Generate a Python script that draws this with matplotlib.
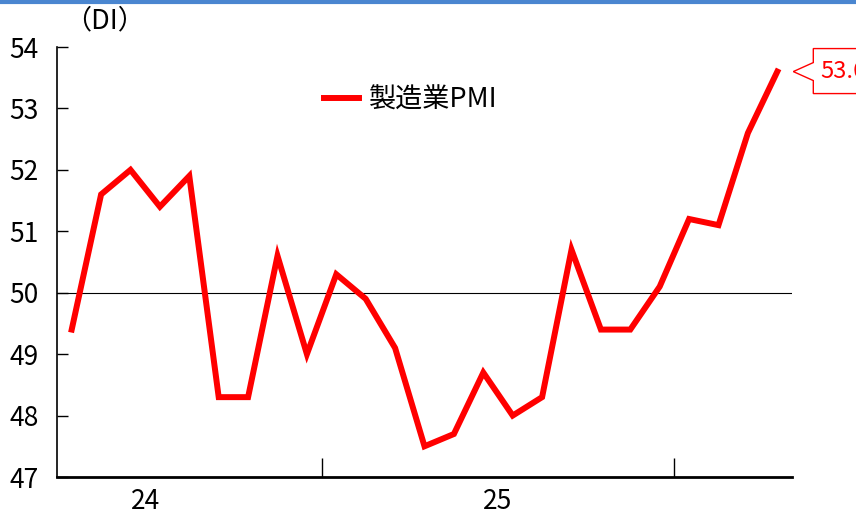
import matplotlib
matplotlib.use("Agg")
import matplotlib.pyplot as plt
import matplotlib.transforms as mtransforms
from matplotlib.patches import Polygon
from matplotlib.lines import Line2D

plt.rcParams["font.family"] = ["Noto Sans CJK JP", "DejaVu Sans"]

# monthly manufacturing PMI, Apr 2024 .. Apr 2026
pmi = [49.4, 51.6, 52.0, 51.4, 51.9, 48.3, 48.3, 50.6, 49.0,
       50.3, 49.9, 49.1, 47.5, 47.7, 48.7, 48.0, 48.3, 50.7, 49.4, 49.4, 50.1,
       51.2, 51.1, 52.6, 53.6]
year_labels = ["24", "25"]
year_label_pos = [2.5, 14.5]
year_breaks = [8.5, 20.5]
y_ticks = [47, 48, 49, 50, 51, 52, 53, 54]

RED = "#ff0000"

fig = plt.figure(figsize=(8.56, 5.16), dpi=100)
ax = fig.add_axes([57 / 856, 39 / 516, 735 / 856, 430 / 516])

x = list(range(len(pmi)))
ax.plot(x, pmi, color=RED, lw=4.3, solid_joinstyle="miter", label="製造業PMI", zorder=3)
ax.axhline(50, color="black", lw=0.8, zorder=2)

ax.set_xlim(-0.5, len(pmi) - 0.5)
ax.set_ylim(47, 54)
ax.set_yticks(y_ticks)
ax.tick_params(axis="y", direction="in", length=8, width=1, labelsize=19, pad=13)
ax.set_xticks(year_breaks)
ax.set_xticklabels([])
ax.tick_params(axis="x", direction="in", length=14, width=1)
ax.set_xticks(year_label_pos, minor=True)
ax.set_xticklabels(year_labels, minor=True)
ax.tick_params(axis="x", which="minor", length=0, labelsize=19, pad=8)

for side in ["top", "right"]:
    ax.spines[side].set_visible(False)
ax.spines["left"].set_linewidth(1.2)
ax.spines["bottom"].set_linewidth(2)

leg = ax.legend(loc="upper left", bbox_to_anchor=(0.33, 0.965), frameon=False,
                fontsize=19.5, handlelength=1.3, handletextpad=0.35)

fig.text(64 / 856, 1 - 21 / 516, "（DI）", fontsize=19.5, va="center", ha="left")

# callout for latest value
px = 100 / 72
tr = mtransforms.Affine2D().scale(fig.dpi / 100) + mtransforms.ScaledTranslation(
    x[-1], pmi[-1], ax.transData)
box = [(16, 0), (36, 9), (36, 23), (120, 23), (120, -22), (36, -22), (36, -9)]
ax.add_patch(Polygon(box, closed=True, facecolor="white", edgecolor=RED, lw=1,
                     transform=tr, clip_on=False, zorder=4))
ax.annotate(f"{pmi[-1]}", xy=(x[-1], pmi[-1]), xytext=(43 / px, 0),
            textcoords="offset points", color=RED, fontsize=17, va="center",
            ha="left", annotation_clip=False, zorder=5)

# blue top rule
fig.add_artist(Line2D([0, 1], [1 - 2 / 516, 1 - 2 / 516], transform=fig.transFigure,
                      color="#4a86d0", lw=3))

fig.savefig("out.png", dpi=100)
